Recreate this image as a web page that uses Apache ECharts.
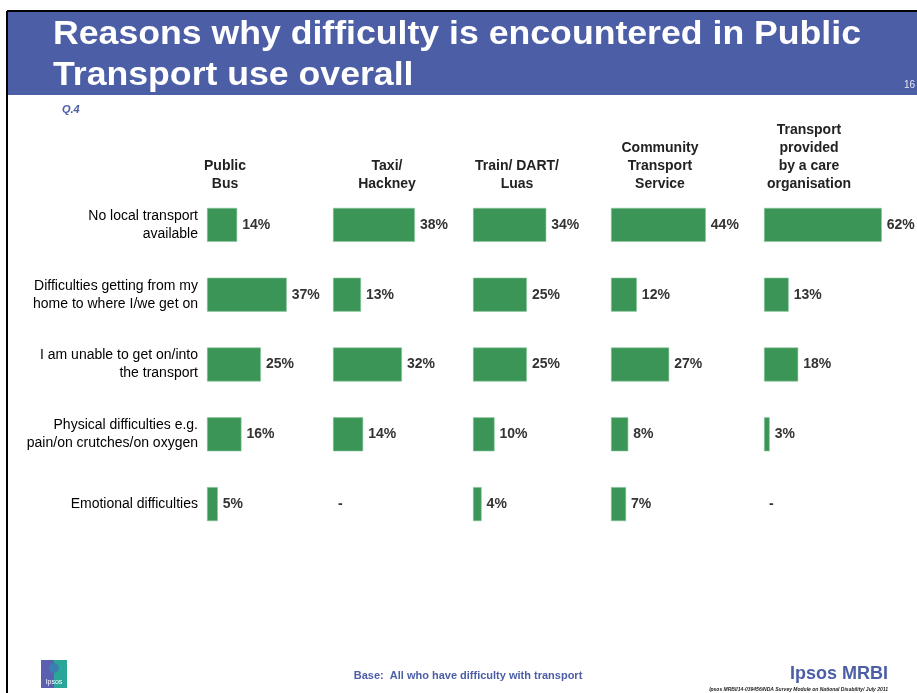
<!DOCTYPE html>
<html>
<head>
<meta charset="utf-8">
<script src="https://cdn.jsdelivr.net/npm/echarts@6/dist/echarts.min.js"></script>
<style>
html,body{margin:0;padding:0;background:#fff;}
#chart{width:917px;height:693px;}
</style>
</head>
<body>
<div id="chart"></div>
<script>
const categories = [
  "No local transport\navailable",
  "Difficulties getting from my\nhome to where I/we get on",
  "I am unable to get on/into\nthe transport",
  "Physical difficulties e.g.\npain/on crutches/on oxygen",
  "Emotional difficulties"
];
const headers = [
  "Public\nBus",
  "Taxi/\nHackney",
  "Train/ DART/\nLuas",
  "Community\nTransport\nService",
  "Transport\nprovided\nby a care\norganisation"
];
const publicBus = [14, 37, 25, 16, 5];
const taxiHackney = [38, 13, 32, 14, null];
const trainDartLuas = [34, 25, 25, 10, 4];
const communityTransport = [44, 12, 27, 8, 7];
const careOrganisation = [62, 13, 18, 3, null];

const seriesValues = [publicBus, taxiHackney, trainDartLuas, communityTransport, careOrganisation];

const BLUE = '#4B5EA6';
const GREEN = '#3B9557';
const FONT = '"Liberation Sans", Arial, sans-serif';
const gridLefts = [207, 333, 473, 611, 764];
const pxPerPct = [2.155, 2.155, 2.155, 2.155, 1.9];
const headerCenters = [225, 387, 517, 660, 809];
const AXIS_MAX = 65;
const GRID_TOP = 190, GRID_H = 349;

const chart = echarts.init(document.getElementById('chart'), null, {renderer: 'canvas'});

const grids = [], xAxes = [], yAxes = [], series = [];
seriesValues.forEach((vals, i) => {
  grids.push({left: gridLefts[i], top: GRID_TOP, width: AXIS_MAX * pxPerPct[i], height: GRID_H, containLabel: false});
  xAxes.push({type: 'value', gridIndex: i, min: 0, max: AXIS_MAX, show: false});
  yAxes.push({
    type: 'category', gridIndex: i, data: categories, inverse: true,
    axisLine: {show: false}, axisTick: {show: false}, splitLine: {show: false},
    axisLabel: i === 0 ? {
      show: true, margin: 9, fontSize: 14, lineHeight: 18, color: '#000',
      fontFamily: FONT, align: 'right'
    } : {show: false}
  });
  series.push({
    type: 'bar', xAxisIndex: i, yAxisIndex: i, barWidth: 34,
    data: vals.map(v => v === null
      ? {value: 0, missing: true, itemStyle: {borderWidth: 0, opacity: 0}}
      : v),
    itemStyle: {color: GREEN, borderColor: '#8cc79d', borderWidth: 0.6},
    label: {
      show: true, position: 'right', distance: 5,
      fontSize: 14, fontWeight: 'bold', color: '#333', opacity: 1,
      fontFamily: FONT,
      formatter: p => (p.data && p.data.missing) ? '-' : p.value + '%'
    },
    silent: true, animation: false
  });
});

const graphics = [
  {type: 'rect', shape: {x: 8, y: 12, width: 909, height: 83}, style: {fill: BLUE}, z: 0},
  {type: 'line', shape: {x1: 7, y1: 11, x2: 917, y2: 11}, style: {stroke: '#000', lineWidth: 2}},
  {type: 'line', shape: {x1: 7, y1: 11, x2: 7, y2: 693}, style: {stroke: '#000', lineWidth: 2}},
  {type: 'text', x: 53, y: 35, scaleX: 1.08, originX: 0, originY: 0,
    style: {text: 'Reasons why difficulty is encountered in Public', fill: '#fff',
    font: 'bold 33px ' + FONT, textVerticalAlign: 'middle'}},
  {type: 'text', x: 53, y: 76, scaleX: 1.08, originX: 0, originY: 0,
    style: {text: 'Transport use overall', fill: '#fff',
    font: 'bold 33px ' + FONT, textVerticalAlign: 'middle'}},
  {type: 'text', x: 904, y: 85, style: {text: '16', fill: '#e8e8f0',
    font: '10px ' + FONT, textVerticalAlign: 'middle'}},
  {type: 'text', x: 62, y: 110, style: {text: 'Q.4', fill: BLUE,
    font: 'italic bold 11px ' + FONT, textVerticalAlign: 'middle'}},
  {type: 'text', x: 468, y: 676, style: {text: 'Base:  All who have difficulty with transport', fill: BLUE,
    font: 'bold 11px ' + FONT, textAlign: 'center', textVerticalAlign: 'middle'}},
  {type: 'text', x: 888, y: 674, style: {text: 'Ipsos MRBI', fill: BLUE,
    font: 'bold 18px ' + FONT, textAlign: 'right', textVerticalAlign: 'middle'}},
  {type: 'text', x: 888, y: 690, style: {text: 'Ipsos MRBI/14-039456/NDA Survey Module on National Disability/ July 2011', fill: '#222',
    font: 'italic bold 5px ' + FONT, textAlign: 'right', textVerticalAlign: 'middle'}},
  {type: 'rect', shape: {x: 41, y: 660, width: 13, height: 28}, style: {fill: '#5a5fb0'}},
  {type: 'rect', shape: {x: 54, y: 660, width: 13, height: 28}, style: {fill: '#2aa59a'}},
  {type: 'circle', shape: {cx: 54, cy: 668, r: 5}, style: {fill: '#3a7fb0'}},
  {type: 'text', x: 54, y: 682, style: {text: 'Ipsos', fill: '#fff',
    font: '7px ' + FONT, textAlign: 'center', textVerticalAlign: 'middle'}}
];
headers.forEach((h, i) => {
  graphics.push({type: 'text', x: headerCenters[i], y: 193, style: {
    text: h, fill: '#222', font: 'bold 14px ' + FONT,
    lineHeight: 18, textAlign: 'center', textVerticalAlign: 'bottom'}});
});

chart.setOption({
  animation: false,
  grid: grids, xAxis: xAxes, yAxis: yAxes, series: series,
  graphic: graphics
});
</script>
</body>
</html>
